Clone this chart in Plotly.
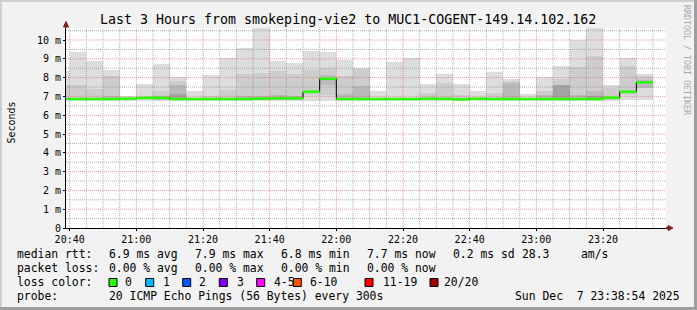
import plotly.graph_objects as go
import pandas as pd
import numpy as np

# ---------------- data ----------------
title_text = "Last 3 Hours from smokeping-vie2 to MUC1-COGENT-149.14.102.162"
day = "2025-12-07 "
range_start = day + "20:38:54"
range_end = day + "23:38:54"

bucket_start = ["20:38:54", "20:40:00", "20:45:00", "20:50:00", "20:55:00", "21:00:00",
                "21:05:00", "21:10:00", "21:15:00", "21:20:00", "21:25:00", "21:30:00",
                "21:35:00", "21:40:00", "21:45:00", "21:50:00", "21:55:00", "22:00:00",
                "22:05:00", "22:10:00", "22:15:00", "22:20:00", "22:25:00", "22:30:00",
                "22:35:00", "22:40:00", "22:45:00", "22:50:00", "22:55:00", "23:00:00",
                "23:05:00", "23:10:00", "23:15:00", "23:20:00", "23:25:00", "23:30:00"]
last_bucket_end = "23:35:00"

# values in ms
median_rtt = [6.86,
              6.86, 6.86, 6.86, 6.88, 6.92, 6.92, 6.86, 6.86, 6.86, 6.86,
              6.86, 6.88, 6.90, 6.90, 7.25, 7.94, 6.86, 6.86, 6.86, 6.86,
              6.86, 6.88, 6.87, 6.84, 6.88, 6.86, 6.86, 6.86, 6.86, 6.86,
              6.86, 6.86, 6.93, 7.25, 7.75]
smoke_min = [6.78,
             6.78, 6.78, 6.78, 6.78, 6.78, 6.78, 6.78, 6.78, 6.78, 6.78,
             6.78, 6.78, 6.78, 6.78, 6.78, 6.78, 6.78, 6.78, 6.78, 6.78,
             6.78, 6.78, 6.78, 6.78, 6.78, 6.78, 6.78, 6.78, 6.78, 6.78,
             6.78, 6.78, 6.78, 6.82, 6.82]
smoke_max = [8.33,
             9.39, 8.90, 8.42, 7.04, 7.67, 8.72, 8.01, 7.27, 8.15, 9.05,
             9.58, 10.66, 8.86, 8.78, 9.44, 9.37, 8.95, 8.51, 7.30, 8.81,
             9.07, 7.67, 8.21, 7.67, 7.30, 8.28, 7.94, 7.14, 8.01, 8.60,
             9.98, 10.67, 7.62, 9.07, 8.21]
band2_lo = [6.80,
            6.80, 6.80, 6.80, None, None, 6.80, 6.80, None, 6.80, 6.80,
            6.80, 6.80, 6.80, 6.80, 7.05, 7.09, 6.80, 6.80, None, None,
            None, 6.80, 6.80, 6.80, None, 6.80, 6.80, None, 6.80, 6.80,
            6.80, 6.80, 6.80, 7.09, 7.45]
band2_hi = [7.62,
            7.62, 7.39, 8.10, None, None, 7.27, 7.80, None, 7.00, 7.32,
            8.17, 8.26, 8.37, 8.21, 8.42, 8.51, 8.11, 8.46, None, None,
            None, 7.18, 7.73, 7.09, None, 7.18, 7.83, None, 7.27, 7.93,
            8.56, 9.16, 7.45, 8.60, 8.10]
band3_lo = [None,
            None, None, 6.81, None, None, 6.81, 6.81, None, None, None,
            6.81, 6.81, 6.81, 6.81, None, 7.62, 6.81, 6.81, None, None,
            None, None, None, None, None, None, 6.81, None, 6.81, None,
            6.81, 6.81, None, None, 7.45]
band3_hi = [None,
            None, None, 7.00, None, None, 7.00, 7.59, None, None, None,
            7.00, 7.00, 7.09, 7.00, None, 8.15, 7.12, 7.57, None, None,
            None, None, None, None, None, None, 7.71, None, 7.09, None,
            7.09, 7.27, None, None, 7.89]
band4_lo = [None,
            None, None, None, None, None, None, 6.82, None, None, None,
            None, None, None, None, None, None, None, None, None, None,
            None, None, None, None, None, None, None, None, None, 6.82,
            None, 6.82, None, None, None]
band4_hi = [None,
            None, None, None, None, None, None, 7.14, None, None, None,
            None, None, None, None, None, None, None, None, None, None,
            None, None, None, None, None, None, None, None, None, 7.62,
            None, 7.00, None, None, None]

y_ticks = [0, 1, 2, 3, 4, 5, 6, 7, 8, 9, 10]
y_tick_text = ["0", "1 m", "2 m", "3 m", "4 m", "5 m", "6 m", "7 m", "8 m", "9 m", "10 m"]
x_major_ticks = ["20:40", "21:00", "21:20", "21:40", "22:00", "22:20", "22:40", "23:00", "23:20"]
y_top = 10.64

rtt_stats = ["6.9 ms avg", "7.9 ms max", "6.8 ms min", "7.7 ms now", "0.2 ms sd", "28.3", "am/s"]
loss_stats = ["0.00 % avg", "0.00 % max", "0.00 % min", "0.00 % now"]
loss_labels = ["0", "1", "2", "3", "4-5", "6-10", "11-19", "20/20"]
loss_colors = ["#26ff00", "#00b8ff", "#0059ff", "#7e00ff", "#ff00ff", "#ff5500", "#ff0000", "#a10000"]
probe_text = "20 ICMP Echo Pings (56 Bytes) every 300s"
date_text = "Sun Dec  7 23:38:54 2025"

# ---------------- styling ----------------
FONT = "DejaVu Sans Mono"
LEG = 11.4
W, H = 697, 310
ML, MR, MT, MB = 66, 31, 28, 82
PW, PH = W - ML - MR, H - MT - MB
BACK = "#f2f2f2"
SHADEA = "#cfcfcf"
SHADEB = "#9e9e9e"
GRID = "rgba(143,143,143,0.7)"
MGRID = "rgba(222,79,79,0.55)"
ARROW = "#801f1f"
SMOKE = ["#dddddd", "#cdcdcd", "#bababa", "#a3a3a3"]

def px_x(px):
    return (px - ML) / PW

def px_y(py):
    return (H - MB - py) / PH

def nn(a):
    return np.array([np.nan if v is None else v for v in a], dtype=float)

starts = pd.to_datetime([day + s for s in bucket_start])
ends = pd.to_datetime(list(starts[1:]) + [pd.Timestamp(day + last_bucket_end)])
widths = (ends - starts).total_seconds().to_numpy() * 1000.0

fig = go.Figure()

bands = [(nn(smoke_min), nn(smoke_max)), (nn(band2_lo), nn(band2_hi)),
         (nn(band3_lo), nn(band3_hi)), (nn(band4_lo), nn(band4_hi))]
for (lo, hi), col in zip(bands, SMOKE):
    fig.add_trace(go.Bar(x=starts, y=hi - lo, base=lo, width=widths, offset=0,
                         marker=dict(color=col, line=dict(width=0)),
                         hoverinfo="skip", showlegend=False))

# grid lines drawn above the smoke (as rrdtool does)
t_major = pd.to_datetime([day + t for t in x_major_ticks])
t_minor = pd.date_range(day + "20:40", day + "23:35", freq="5min")
t_minor = [t for t in t_minor if t not in set(t_major)]
h_minor = [v + 0.5 for v in y_ticks]
h_major = y_ticks[1:]

def vlines(ts):
    xs, ys = [], []
    for t in ts:
        xs += [t, t, None]
        ys += [0, y_top, None]
    return xs, ys

def hlines(vs):
    xs, ys = [], []
    for v in vs:
        xs += [pd.Timestamp(range_start), pd.Timestamp(range_end), None]
        ys += [v, v, None]
    return xs, ys

for fn, vals, col in [(vlines, t_minor, GRID), (hlines, h_minor, GRID),
                      (vlines, t_major, MGRID), (hlines, h_major, MGRID)]:
    xs, ys = fn(vals)
    fig.add_trace(go.Scatter(x=xs, y=ys, mode="lines",
                             line=dict(color=col, width=1, dash="1px,1px"),
                             hoverinfo="skip", showlegend=False))

# median: thin black step line + green (loss 0) segments
fig.add_trace(go.Scatter(x=list(starts) + [ends[-1]], y=median_rtt + [median_rtt[-1]],
                         mode="lines", line=dict(color="#000000", width=1, shape="hv"),
                         hoverinfo="skip", showlegend=False))
gx, gy = [], []
for s, e, m in zip(starts, ends, median_rtt):
    gx += [s, e, None]
    gy += [m, m, None]
fig.add_trace(go.Scatter(x=gx, y=gy, mode="lines",
                         line=dict(color=loss_colors[0], width=2.5),
                         hoverinfo="skip", showlegend=False))

# ---------------- annotations ----------------
ann = []
def txt(px, py, text, size=LEG, xanchor="left", color="#000000", angle=0):
    ann.append(dict(x=px_x(px), y=px_y(py), xref="paper", yref="paper",
                    text=text.replace(" ", "\u00a0"), showarrow=False,
                    xanchor=xanchor, yanchor="middle", textangle=angle,
                    font=dict(family=FONT, size=size, color=color)))

txt(348, 19, title_text, size=13.3, xanchor="center")
txt(11, 122.5, "Seconds", size=10, xanchor="center", angle=-90)
txt(687, 60, "RRDTOOL / TOBI OETIKER", size=8.3, xanchor="center", color="#a8a8a8", angle=90)

row_y = [254.3, 267.7, 282.3, 295.7]
txt(15, row_y[0], "median rtt:")
for xp, s in zip([107, 193, 279, 365, 451, 520, 579], rtt_stats):
    txt(xp, row_y[0], s)
txt(15, row_y[1], "packet loss:")
for xp, s in zip([107, 193, 279, 365], loss_stats):
    txt(xp, row_y[1], s)
txt(15, row_y[2], "loss color:")
box_x = [109, 145.7, 182.7, 219.3, 256.7, 293.3, 365, 430]
lab_x = [123, 160.5, 197, 234.5, 271.5, 308, 380.5, 441.5]
shapes = []
for bx, lx, lab, col in zip(box_x, lab_x, loss_labels, loss_colors):
    txt(lx, row_y[2], lab)
    shapes.append(dict(type="rect", xref="paper", yref="paper",
                       x0=px_x(bx), x1=px_x(bx + 8), y0=px_y(286.5), y1=px_y(278.5),
                       fillcolor=col, line=dict(color="#000000", width=1)))
txt(15, row_y[3], "probe:")
txt(107, row_y[3], probe_text)
txt(513, row_y[3], date_text)

# frame (3D border)
shapes += [
    dict(type="rect", xref="paper", yref="paper", x0=px_x(0), x1=px_x(W), y0=px_y(0), y1=px_y(2),
         fillcolor=SHADEA, line=dict(width=0), layer="below"),
    dict(type="rect", xref="paper", yref="paper", x0=px_x(0), x1=px_x(2), y0=px_y(0), y1=px_y(H),
         fillcolor=SHADEA, line=dict(width=0), layer="below"),
    dict(type="rect", xref="paper", yref="paper", x0=px_x(0), x1=px_x(W), y0=px_y(H - 3), y1=px_y(H),
         fillcolor=SHADEB, line=dict(width=0), layer="below"),
    dict(type="rect", xref="paper", yref="paper", x0=px_x(W - 3), x1=px_x(W), y0=px_y(0), y1=px_y(H),
         fillcolor=SHADEB, line=dict(width=0), layer="below"),
]
# axis arrows
shapes += [
    dict(type="path", xref="paper", yref="paper", xsizemode="pixel", ysizemode="pixel",
         xanchor=0, yanchor=1, path="M 0,0 L 0,1 M -2.5,1 L 2.5,1 L 0,6.5 Z",
         fillcolor=ARROW, line=dict(color=ARROW, width=1)),
    dict(type="path", xref="paper", yref="paper", xsizemode="pixel", ysizemode="pixel",
         xanchor=1, yanchor=0, path="M 0,0 L 2,0 M 2,-2.5 L 2,2.5 L 7,0 Z",
         fillcolor=ARROW, line=dict(color=ARROW, width=1)),
    dict(type="line", xref="paper", yref="paper", xsizemode="pixel", xanchor=1,
         x0=0, x1=2, y0=0, y1=0, line=dict(color="#000000", width=1)),
]

fig.update_layout(
    template="none",
    width=W, height=H,
    margin=dict(l=ML, r=MR, t=MT, b=MB, pad=0),
    paper_bgcolor=BACK, plot_bgcolor="#ffffff",
    barmode="overlay", bargap=0,
    showlegend=False,
    font=dict(family=FONT, size=10, color="#000000"),
    annotations=ann, shapes=shapes,
    xaxis=dict(type="date", range=[range_start, range_end], showgrid=False, zeroline=False,
               tickvals=list(t_major), ticktext=x_major_ticks,
               ticks="outside", ticklen=2, tickcolor="#000000", tickwidth=1,
               showline=True, linecolor="#000000", linewidth=1,
               tickfont=dict(family=FONT, size=10, color="#000000"), fixedrange=True),
    yaxis=dict(range=[0, y_top], showgrid=False, zeroline=False,
               tickvals=y_ticks, ticktext=y_tick_text,
               ticks="outside", ticklen=2, tickcolor="#000000", tickwidth=1,
               showline=True, linecolor="#000000", linewidth=1,
               tickfont=dict(family=FONT, size=10, color="#000000"), fixedrange=True),
)

fig.write_html("out.html")
